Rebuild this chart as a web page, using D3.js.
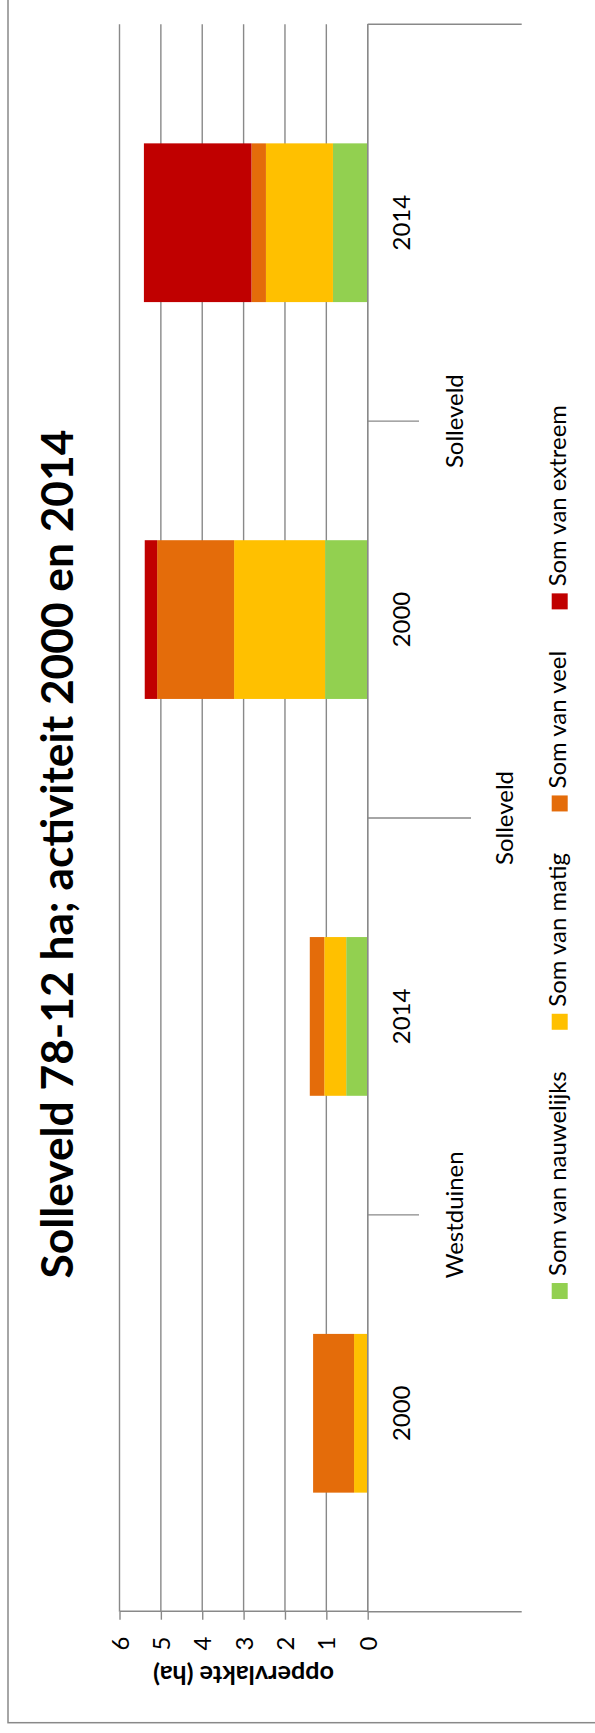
<!DOCTYPE html>
<html><head><meta charset="utf-8">
<script src="https://cdn.jsdelivr.net/npm/d3@7"></script>
<style>html,body{margin:0;padding:0;background:#fff;} svg{display:block;}</style>
</head><body>
<script>
// ---- data ----
const categories = ["2000", "2014", "2000", "2014"];
const sites = ["Westduinen", "Solleveld"];
const topGroup = ["Solleveld"];
const seriesNames = ["Som van nauwelijks", "Som van matig", "Som van veel", "Som van extreem"];
const nauwelijks = [0, 0.52, 1.03, 0.84];
const matig = [0.33, 0.53, 2.20, 1.62];
const veel = [0.99, 0.35, 1.86, 0.35];
const extreem = [0, 0, 0.30, 2.60];
const valueTicks = [0, 1, 2, 3, 4, 5, 6];
const colors = ["#92D050", "#FFC000", "#E46C0A", "#C00000"];
const titleText = "Solleveld 78-12 ha; activiteit 2000 en 2014";
const axisTitle = "oppervlakte (ha)";

// ---- layout ----
const W = 595, H = 1733;
const FONT = "Lato, 'Open Sans', sans-serif";
const GRID = "#898989";

const svg = d3.select("body").append("svg").attr("width", W).attr("height", H);
svg.append("rect").attr("width", W).attr("height", H).attr("fill", "#fff");
svg.append("rect").attr("x", 8).attr("y", -20).attr("width", W + 20).attr("height", 1742.7)
  .attr("fill", "none").attr("stroke", GRID).attr("stroke-width", 1.5);

// the chart is drawn in its own (unrotated) frame and turned a quarter to the left
const g = svg.append("g").attr("transform", `translate(0,${H}) rotate(-90)`);

function fitSize(text, weight, target) {
  const t = g.append("text").attr("font-family", FONT).attr("font-weight", weight)
    .attr("font-size", 100).text(text);
  const w = t.node().getComputedTextLength();
  t.remove();
  return 100 * target / w;
}
const baseSize = (fitSize("Som van nauwelijks", 400, 211) + fitSize("Som van veel", 400, 141.7)
  + fitSize("Westduinen", 400, 130) + fitSize("2000", 400, 51)) / 4;
const titleSize = fitSize(titleText, 700, 849);
const axisTitleSize = fitSize(axisTitle, 700, 181);

const x = d3.scaleBand().domain(d3.range(categories.length))
  .range([121.3, 1708.7]).paddingInner(0.6).paddingOuter(0.3);
const y = d3.scaleLinear().domain([0, 6]).range([367.7, 119.5]);
const [x0, x1] = x.range();
const boundary = k => x0 + x.step() * k;

// gridlines
g.append("g").selectAll("line").data(valueTicks).join("line")
  .attr("x1", x0).attr("x2", x1).attr("y1", d => y(d)).attr("y2", d => y(d))
  .attr("stroke", GRID).attr("stroke-width", 1.4);

// stacked bars
const rows = categories.map((c, i) => ({ i, s0: nauwelijks[i], s1: matig[i], s2: veel[i], s3: extreem[i] }));
const stack = d3.stack().keys(["s0", "s1", "s2", "s3"])(rows);
g.append("g").selectAll("g").data(stack).join("g").attr("fill", (d, k) => colors[k])
  .selectAll("rect").data(d => d).join("rect")
  .attr("x", d => x(d.data.i)).attr("width", x.bandwidth())
  .attr("y", d => y(d[1])).attr("height", d => y(d[0]) - y(d[1]));

// value axis
const ax = g.append("g").attr("transform", `translate(${x0},0)`)
  .call(d3.axisLeft(y).tickValues(valueTicks).tickFormat(d3.format("d"))
    .tickSize(8).tickSizeOuter(0).tickPadding(17));
ax.selectAll("line,path").attr("stroke", GRID).attr("stroke-width", 1.4);
ax.selectAll("text").attr("font-family", FONT).attr("font-size", baseSize).attr("fill", "#000").attr("dy", "0.36em");

// category axis line + dividers
g.append("line").attr("x1", x0).attr("x2", x1).attr("y1", y(0)).attr("y2", y(0))
  .attr("stroke", GRID).attr("stroke-width", 1.4);
const divLen = [521.7, 419, 471, 419, 521.7];
g.append("g").selectAll("line").data(d3.range(categories.length + 1)).join("line")
  .attr("x1", k => boundary(k)).attr("x2", k => boundary(k))
  .attr("y1", y(0)).attr("y2", k => divLen[k])
  .attr("stroke", GRID).attr("stroke-width", 1.4);

// category labels, three levels
g.append("g").selectAll("text").data(categories).join("text")
  .attr("x", (d, i) => x(i) + x.bandwidth() / 2).attr("y", 410)
  .attr("text-anchor", "middle").attr("font-family", FONT).attr("font-size", baseSize).text(d => d);
g.append("g").selectAll("text").data(sites).join("text")
  .attr("x", (d, j) => boundary(2 * j + 1)).attr("y", 463)
  .attr("text-anchor", "middle").attr("font-family", FONT).attr("font-size", baseSize).text(d => d);
g.append("g").selectAll("text").data(topGroup).join("text")
  .attr("x", boundary(2)).attr("y", 513)
  .attr("text-anchor", "middle").attr("font-family", FONT).attr("font-size", baseSize).text(d => d);

// title
g.append("text").attr("x", 879).attr("y", 73).attr("text-anchor", "middle")
  .attr("font-family", FONT).attr("font-weight", 700).attr("font-size", titleSize).text(titleText);

// axis title
g.append("text").attr("transform", `translate(67,${(y(0) + y(6)) / 2}) rotate(-90)`)
  .attr("text-anchor", "middle").attr("font-family", FONT).attr("font-weight", 700)
  .attr("font-size", axisTitleSize).text(axisTitle);

// legend
const sw = 16, gap = 7, itemGap = 41.5;
const widths = seriesNames.map(n => {
  const t = g.append("text").attr("font-family", FONT).attr("font-size", baseSize).text(n);
  const w = t.node().getComputedTextLength(); t.remove(); return w;
});
const total = d3.sum(widths) + seriesNames.length * (sw + gap) + (seriesNames.length - 1) * itemGap;
let pos = 881 - total / 2;
const starts = widths.map(w => { const p = pos; pos += sw + gap + w + itemGap; return p; });
const leg = g.append("g").selectAll("g").data(seriesNames).join("g")
  .attr("transform", (d, k) => `translate(${starts[k]},0)`);
leg.append("rect").attr("x", 0).attr("y", 551.7).attr("width", sw).attr("height", sw)
  .attr("fill", (d, k) => colors[k]);
leg.append("text").attr("x", sw + gap).attr("y", 566.3)
  .attr("font-family", FONT).attr("font-size", baseSize).text(d => d);
</script>
</body></html>
